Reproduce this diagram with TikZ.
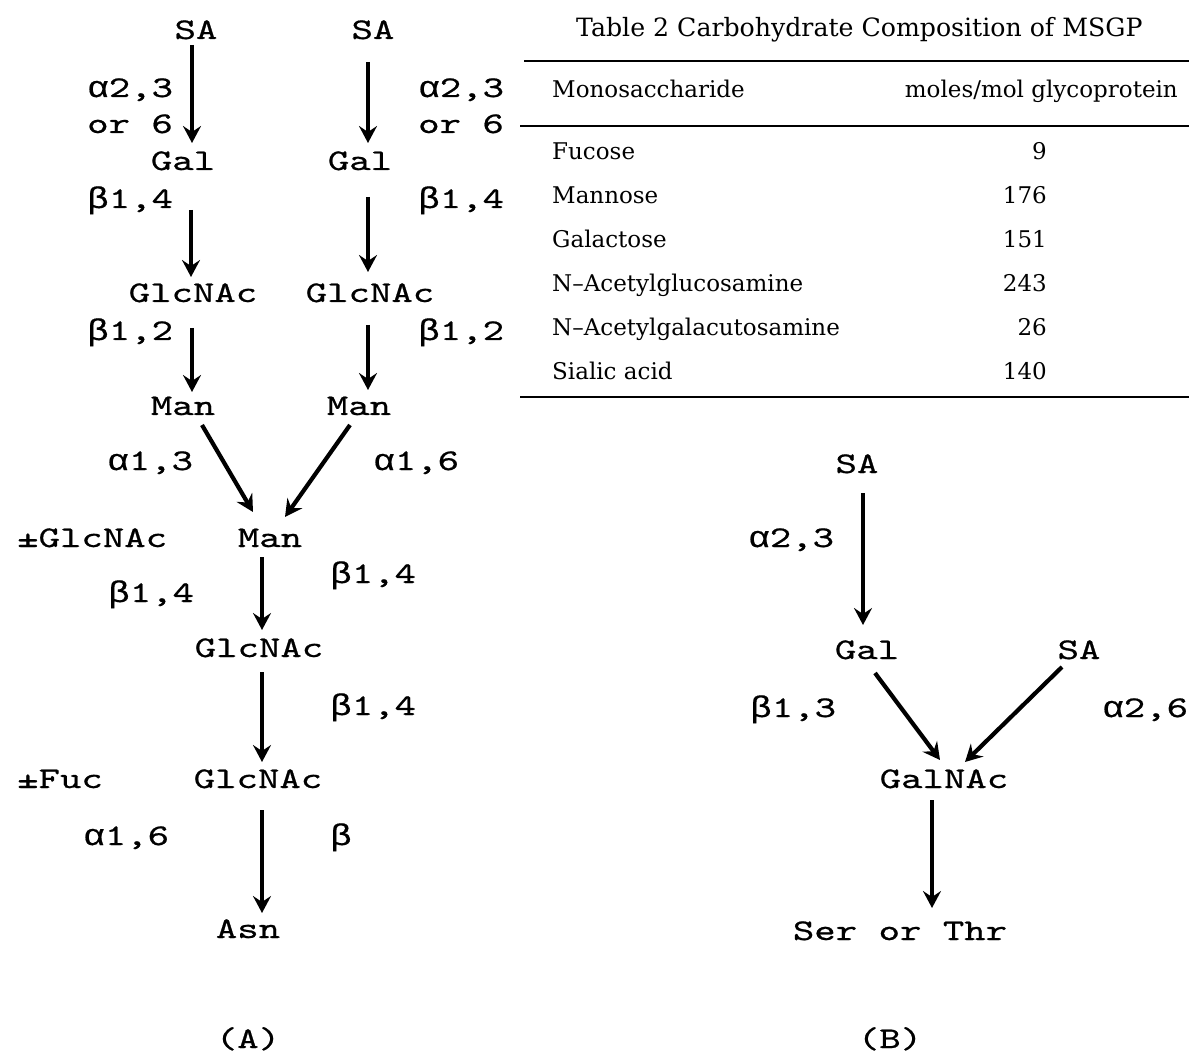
\documentclass[tikz,border=0pt]{standalone}
\usepackage{fontspec}
\usetikzlibrary{arrows.meta}
\newfontfamily\glymono[FakeStretch=1.36,FakeBold=0.7]{lmmono10-regular.otf}
\newfontfamily\greekmono[FakeStretch=1.2,FakeBold=0.5]{Liberation Mono}
\newcommand\gkl[1]{{\greekmono #1}}
\newfontfamily\tabserif{DejaVu Serif}
\begin{document}
\begin{tikzpicture}[x=1pt,y=-1pt,
  mono/.style={inner sep=0pt, font=\glymono\fontsize{30}{36}\selectfont},
  lbl/.style={mono, anchor=base west},
  sug/.style={mono, anchor=base},
  tab/.style={inner sep=0pt, font=\tabserif\fontsize{23}{28}\selectfont},
  ttl/.style={inner sep=0pt, font=\tabserif\fontsize{25.2}{30}\selectfont},
  arr/.style={line width=4.2pt, -{Stealth[length=17pt,width=18pt,inset=6pt]}},
  rule/.style={line width=2.4pt}]
\useasboundingbox (0,0) rectangle (1189,1056);

% ---------- (A) ----------
\node[sug] (sa1) at (196,39) {SA};
\node[sug] (sa2) at (373,39) {SA};
\node[sug] (gal1) at (183,170) {Gal};
\node[sug] (gal2) at (360,170) {Gal};
\node[sug] (gn1) at (193,302) {GlcNAc};
\node[sug] (gn2) at (370,302) {GlcNAc};
\node[sug] (man1) at (183,415) {Man};
\node[sug] (man2) at (359,415) {Man};
\node[sug] (man3) at (270,547) {Man};
\node[sug] (gn3) at (259,657) {GlcNAc};
\node[sug] (gn4) at (258,788) {GlcNAc};
\node[sug] (asn) at (248,938) {Asn};
\node[sug] (capA) at (248,1048) {(A)};

\node[lbl] (l1a) at (87,97) {\gkl{α}2,3};
\node[lbl] (l1b) at (87,133) {or 6};
\node[lbl] (r1a) at (418,97) {\gkl{α}2,3};
\node[lbl] (r1b) at (418,133) {or 6};
\node[lbl] (l2) at (87,208) {\gkl{β}1,4};
\node[lbl] (r2) at (418,208) {\gkl{β}1,4};
\node[lbl] (l3) at (87,340) {\gkl{β}1,2};
\node[lbl] (r3) at (418,340) {\gkl{β}1,2};
\node[lbl] (l4) at (107,470) {\gkl{α}1,3};
\node[lbl] (r4) at (373,470) {\gkl{α}1,6};
\node[lbl] (pmg) at (17,547) {±GlcNAc};
\node[lbl] (l5) at (108,602) {\gkl{β}1,4};
\node[lbl] (r5) at (330,583) {\gkl{β}1,4};
\node[lbl] (r6) at (330,715) {\gkl{β}1,4};
\node[lbl] (pmf) at (17,788) {±Fuc};
\node[lbl] (l7) at (83,845) {\gkl{α}1,6};
\node[lbl] (r7) at (330,845) {\gkl{β}};

\draw[arr] ([shift={(-4,6)}]sa1.base) -- ([shift={(9,-27)}]gal1.base);
\draw[arr] ([shift={(-5,23)}]sa2.base) -- ([shift={(8,-27)}]gal2.base);
\draw[arr] ([shift={(8,40)}]gal1.base) -- ([shift={(-2,-25)}]gn1.base);
\draw[arr] ([shift={(8,27)}]gal2.base) -- ([shift={(-2,-30)}]gn2.base);
\draw[arr] ([shift={(-1,26)}]gn1.base) -- ([shift={(9,-23)}]man1.base);
\draw[arr] ([shift={(-2,23)}]gn2.base) -- ([shift={(9,-25)}]man2.base);
\draw[arr] ([shift={(19,10)}]man1.base) -- ([shift={(-17,-35)}]man3.base);
\draw[arr] ([shift={(-9,10)}]man2.base) -- ([shift={(15,-30)}]man3.base);
\draw[arr] ([shift={(-8,10)}]man3.base) -- ([shift={(3,-27)}]gn3.base);
\draw[arr] ([shift={(3,15)}]gn3.base) -- ([shift={(4,-26)}]gn4.base);
\draw[arr] ([shift={(4,22)}]gn4.base) -- ([shift={(14,-25)}]asn.base);

% ---------- (B) ----------
\node[sug] (sb1) at (857,473) {SA};
\node[sug] (galb) at (867,659) {Gal};
\node[sug] (sb2) at (1079,659) {SA};
\node[sug] (galnac) at (944,788) {GalNAc};
\node[sug] (ser) at (900,940) {Ser or Thr};
\node[sug] (capB) at (890,1048) {(B)};
\node[lbl] (bl1) at (748,547) {\gkl{α}2,3};
\node[lbl] (bl2) at (750,717) {\gkl{β}1,3};
\node[lbl] (br2) at (1102,717) {\gkl{α}2,6};

\draw[arr] ([shift={(6,20)}]sb1.base) -- ([shift={(-4,-34)}]galb.base);
\draw[arr] ([shift={(8,14)}]galb.base) -- ([shift={(-4,-28)}]galnac.base);
\draw[arr] ([shift={(-17,8)}]sb2.base) -- ([shift={(21,-26)}]galnac.base);
\draw[arr] ([shift={(-12,12)}]galnac.base) -- ([shift={(32,-32)}]ser.base);

% ---------- Table ----------
\node[ttl, anchor=base west] (title) at (576,37) {Table 2 Carbohydrate Composition of MSGP};
\draw[rule] (524,61) -- (1189,61);
\node[tab, anchor=base west] (hmono) at (552,98) {Monosaccharide};
\node[tab, anchor=base east] (hmol) at (1178,98) {moles/mol glycoprotein};
\draw[rule] (520,126) -- (1189,126);
\node[tab, anchor=base west] (n1) at (552,160) {Fucose};
\node[tab, anchor=base west] (n2) at (552,204) {Mannose};
\node[tab, anchor=base west] (n3) at (552,248) {Galactose};
\node[tab, anchor=base west] (n4) at (552,292) {N–Acetylglucosamine};
\node[tab, anchor=base west] (n5) at (552,336) {N–Acetylgalacutosamine};
\node[tab, anchor=base west] (n6) at (552,380) {Sialic acid};
\node[tab, anchor=base east] (v1) at (1047,160) {9};
\node[tab, anchor=base east] (v2) at (1047,204) {176};
\node[tab, anchor=base east] (v3) at (1047,248) {151};
\node[tab, anchor=base east] (v4) at (1047,292) {243};
\node[tab, anchor=base east] (v5) at (1047,336) {26};
\node[tab, anchor=base east] (v6) at (1047,380) {140};
\draw[rule] (520,397) -- (1189,397);
\end{tikzpicture}
\end{document}
